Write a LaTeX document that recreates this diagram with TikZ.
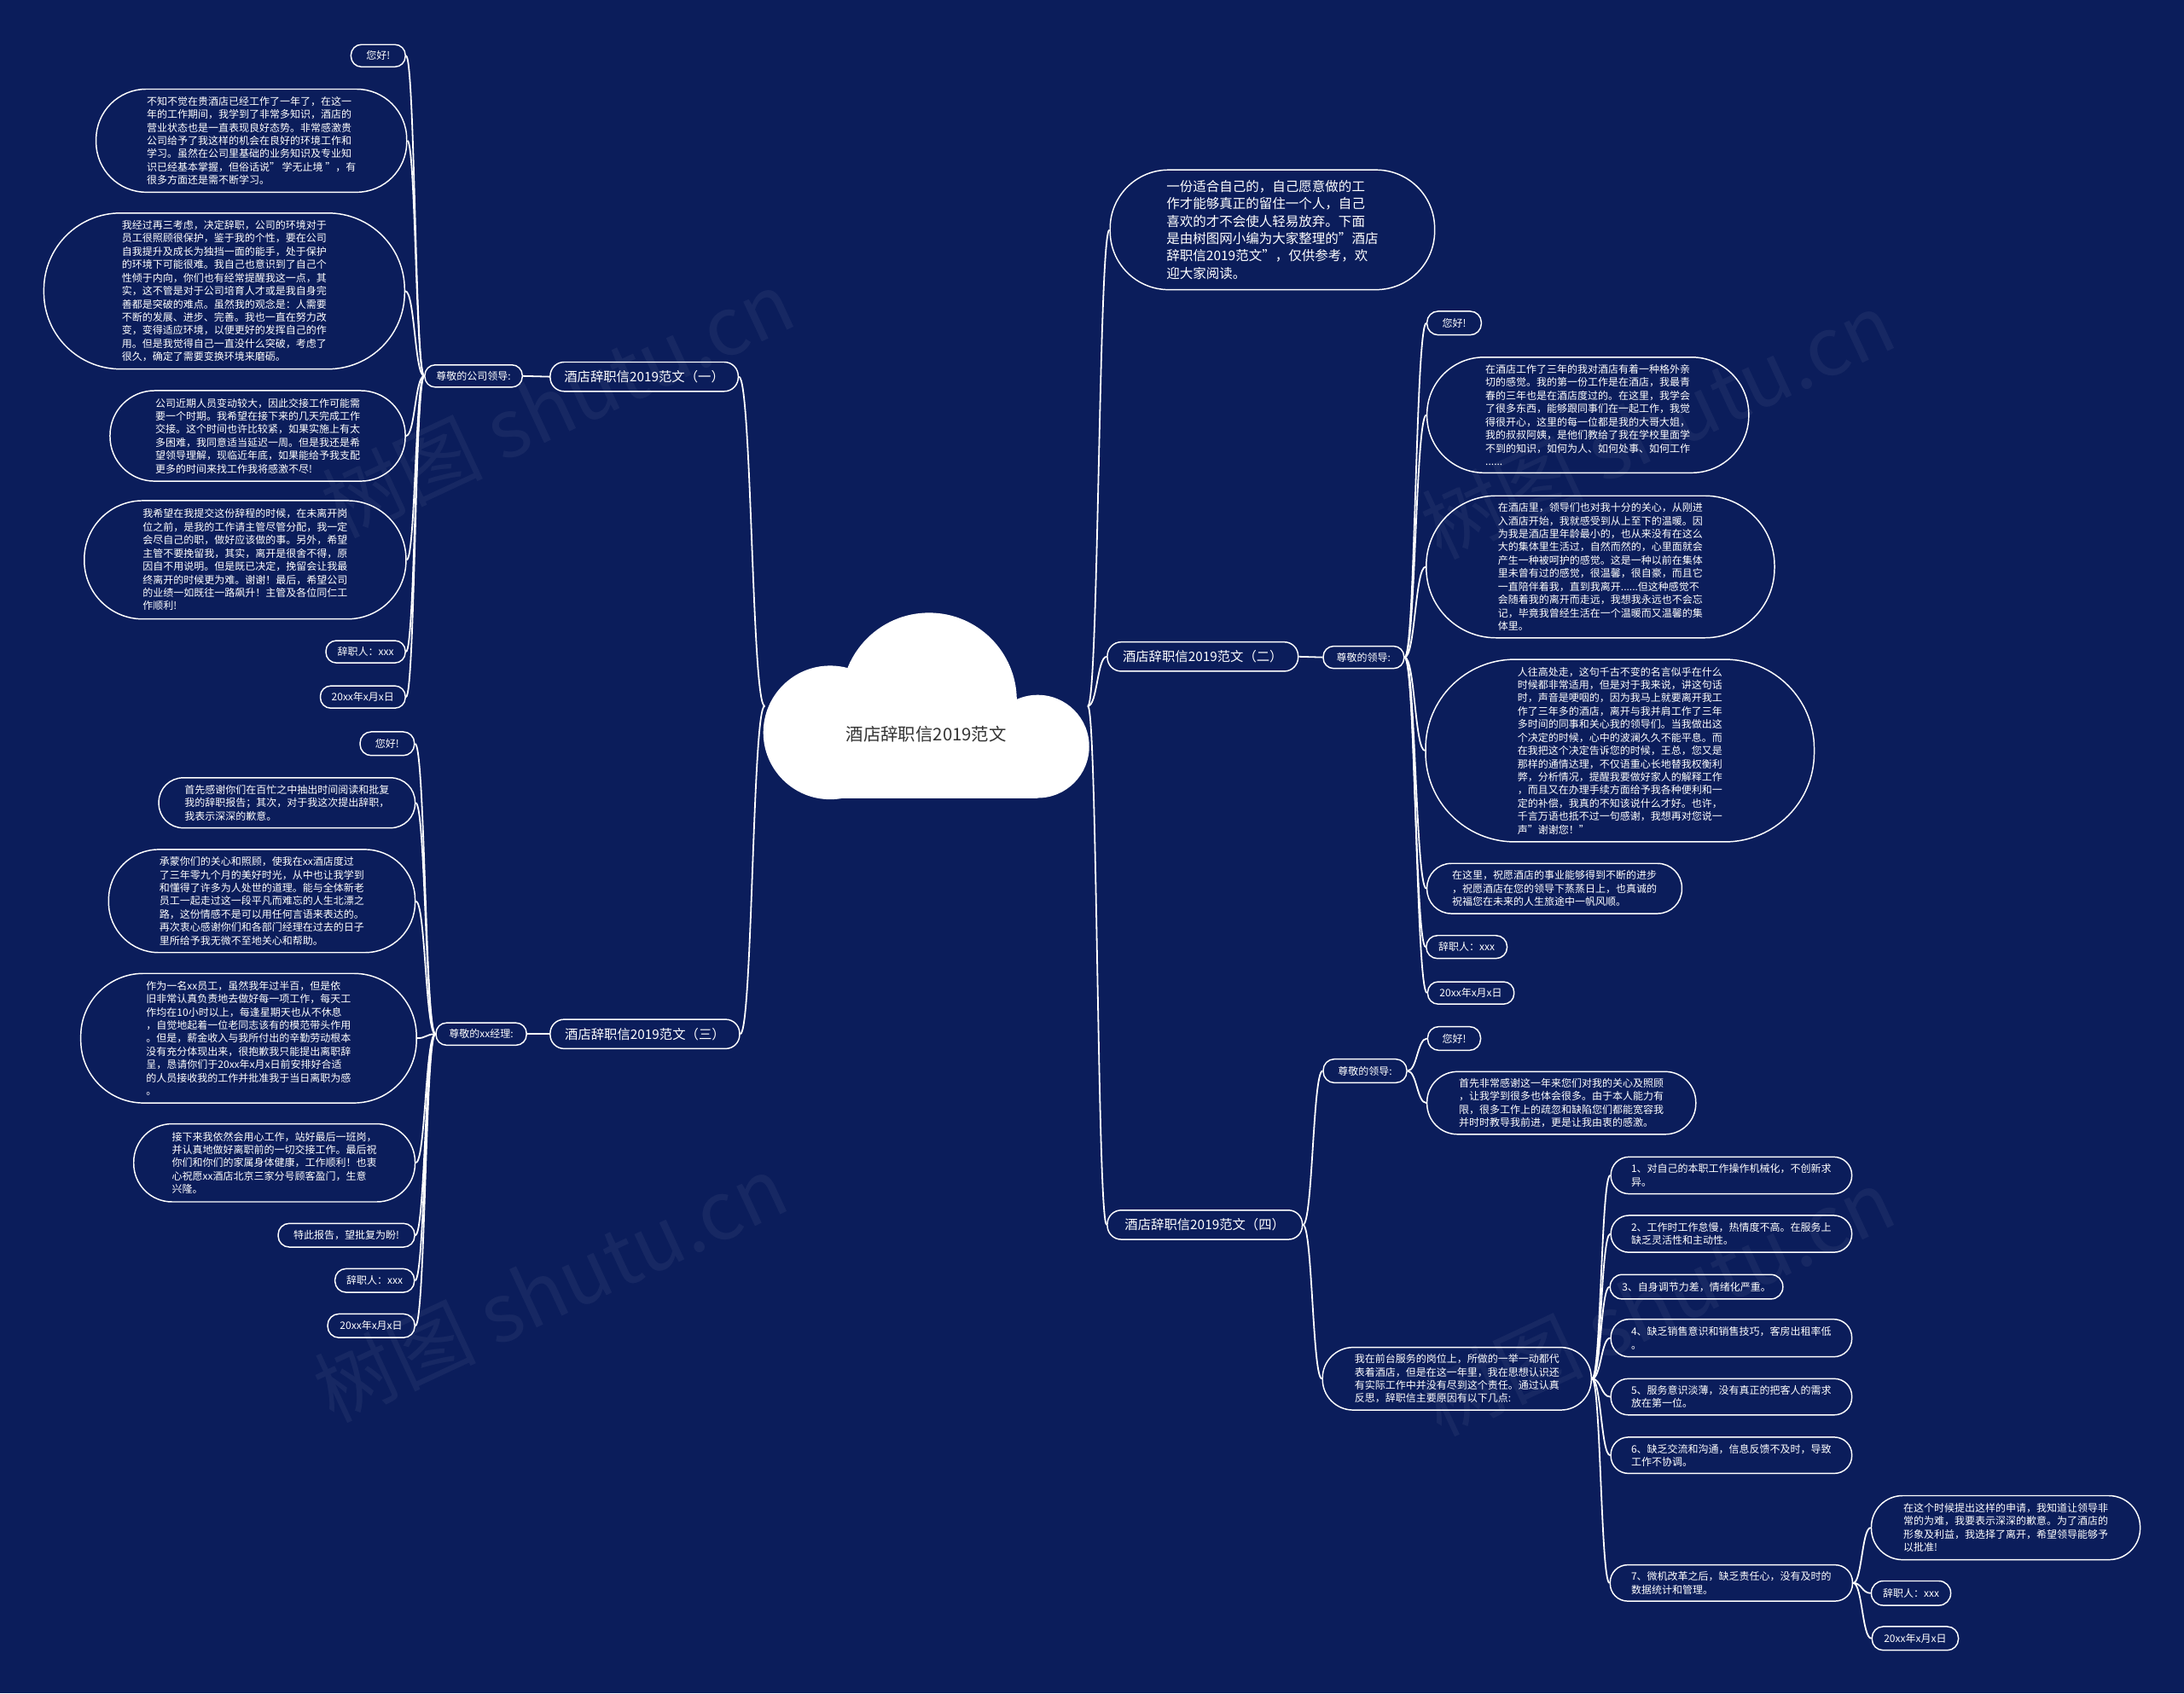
\documentclass[tikz,border=0pt]{standalone}
\usepackage{fontspec}
\setmainfont{Noto Sans CJK SC}
\usetikzlibrary{calc}
\definecolor{bg}{RGB}{11,29,91}
\tikzset{
 leafbox/.style={draw=white, line width=0.9pt, text=white, align=left, inner sep=0pt, font=\fontsize{7.35pt}{9.45pt}\selectfont},
 pill/.style n args={3}{leafbox, minimum width=#1pt, minimum height=#2pt, rounded corners=#3pt},
 bigtxt/.style={font=\fontsize{9.4pt}{11pt}\selectfont},
 introtxt/.style={font=\fontsize{9.5pt}{12.5pt}\selectfont},
 conn/.style={draw=white, line width=1.1pt},
 wmark/.style={rotate=25, text=white, opacity=0.05, font=\fontsize{58pt}{58pt}\selectfont},
}
\newcommand\conn[2]{\path (#1) -- coordinate[pos=0.5] (mm) (#2); \draw[conn] (#1) .. controls (mm |- #1) and (mm |- #2) .. (#2);}
\begin{document}
\begin{tikzpicture}[x=1pt,y=-1pt]
\fill[bg] (0,0) rectangle (1568,1216);
\useasboundingbox (0,0) rectangle (1568,1216);
% watermarks
\node[wmark] (w1) at (400,290) {树图 shutu.cn};
\node[wmark] (w2) at (1190,305) {树图 shutu.cn};
\node[wmark] (w3) at (395,925) {树图 shutu.cn};
\node[wmark] (w4) at (1190,935) {树图 shutu.cn};
% cloud
\fill[white] (596,526) circle (48);
\fill[white] (667,503) circle (63);
\fill[white] (745,536) circle (37);
\fill[white] (596,515) rectangle (745,573);
\node[font=\fontsize{12.5pt}{14pt}\selectfont, text=black!80] (c) at (665,527) {酒店辞职信2019范文};
\coordinate (cl) at (549,507);
\coordinate (cr) at (781,507);

% ---------- branch 1 ----------
\node[pill={135}{21}{10}, bigtxt] (b1) at (462.5,270.5) {酒店辞职信2019范文（一）};
\node[pill={70}{16}{7.5}] (s1) at (340,270) {尊敬的公司领导:};
\node[pill={39}{16}{7.5}] (l1a) at (271.5,40) {您好!};
\node[pill={223}{74}{36}] (l1b) at (180.5,101) {不知不觉在贵酒店已经工作了一年了，在这一\\年的工作期间，我学到了非常多知识，酒店的\\营业状态也是一直表现良好态势。非常感激贵\\公司给予了我这样的机会在良好的环境工作和\\学习。虽然在公司里基础的业务知识及专业知\\识已经基本掌握，但俗话说" 学无止境 "，有\\很多方面还是需不断学习。};
\node[pill={259}{112}{55}] (l1c) at (161,209) {我经过再三考虑，决定辞职，公司的环境对于\\员工很照顾很保护，鉴于我的个性，要在公司\\自我提升及成长为独挡一面的能手，处于保护\\的环境下可能很难。我自己也意识到了自己个\\性倾于内向，你们也有经常提醒我这一点，其\\实，这不管是对于公司培育人才或是我自身完\\善都是突破的难点。虽然我的观念是：人需要\\不断的发展、进步、完善。我也一直在努力改\\变，变得适应环境，以便更好的发挥自己的作\\用。但是我觉得自己一直没什么突破，考虑了\\很久，确定了需要变换环境来磨砺。};
\node[pill={212}{65}{32}] (l1d) at (185,313) {公司近期人员变动较大，因此交接工作可能需\\要一个时期。我希望在接下来的几天完成工作\\交接。这个时间也许比较紧，如果实施上有太\\多困难，我同意适当延迟一周。但是我还是希\\望领导理解，现临近年底，如果能给予我支配\\更多的时间来找工作我将感激不尽!};
\node[pill={231}{85}{42}] (l1e) at (176,402) {我希望在我提交这份辞程的时候，在未离开岗\\位之前，是我的工作请主管尽管分配，我一定\\会尽自己的职，做好应该做的事。另外，希望\\主管不要挽留我，其实，离开是很舍不得，原\\因自不用说明。但是既已决定，挽留会让我最\\终离开的时候更为难。谢谢！最后，希望公司\\的业绩一如既往一路飙升！主管及各位同仁工\\作顺利!};
\node[pill={57}{16}{7.5}] (l1f) at (262.5,468) {辞职人：xxx};
\node[pill={61}{16}{7.5}] (l1g) at (260.5,500.5) {20xx年x月x日};

% ---------- branch 3 ----------
\node[pill={136}{21}{10}, bigtxt] (b3) at (463,742.5) {酒店辞职信2019范文（三）};
\node[pill={65}{16}{7.5}] (s3) at (345.5,742.5) {尊敬的xx经理:};
\node[pill={39}{17}{8}] (l3a) at (278,534) {您好!};
\node[pill={184}{36}{17.5}] (l3b) at (206,576.5) {首先感谢你们在百忙之中抽出时间阅读和批复\\我的辞职报告；其次，对于我这次提出辞职，\\我表示深深的歉意。};
\node[pill={220}{74}{36}] (l3c) at (188,647) {承蒙你们的关心和照顾，使我在xx酒店度过\\了三年零九个月的美好时光，从中也让我学到\\和懂得了许多为人处世的道理。能与全体新老\\员工一起走过这一段平凡而难忘的人生北漂之\\路，这份情感不是可以用任何言语来表达的。\\再次衷心感谢你们和各部门经理在过去的日子\\里所给予我无微不至地关心和帮助。};
\node[pill={241}{93}{45}] (l3d) at (178.5,745.5) {作为一名xx员工，虽然我年过半百，但是依\\旧非常认真负责地去做好每一项工作，每天工\\作均在10小时以上，每逢星期天也从不休息\\，自觉地起着一位老同志该有的模范带头作用\\。但是，薪金收入与我所付出的辛勤劳动根本\\没有充分体现出来，很抱歉我只能提出离职辞\\呈，恳请你们于20xx年x月x日前安排好合适\\的人员接收我的工作并批准我于当日离职为感\\。};
\node[pill={202}{56}{27.5}] (l3e) at (197,835) {接下来我依然会用心工作，站好最后一班岗，\\并认真地做好离职前的一切交接工作。最后祝\\你们和你们的家属身体健康，工作顺利！也衷\\心祝愿xx酒店北京三家分号顾客盈门，生意\\兴隆。};
\node[pill={98}{17}{8}] (l3f) at (248.7,887) {特此报告，望批复为盼!};
\node[pill={57}{17}{8}] (l3g) at (269,919.5) {辞职人：xxx};
\node[pill={62.5}{17}{8}] (l3h) at (266.5,952) {20xx年x月x日};

% ---------- intro ----------
\node[pill={233}{86}{42}, introtxt] (intro) at (913.5,165) {一份适合自己的，自己愿意做的工\\作才能够真正的留住一个人，自己\\喜欢的才不会使人轻易放弃。下面\\是由树图网小编为大家整理的"酒店\\辞职信2019范文"，仅供参考，欢\\迎大家阅读。};

% ---------- branch 2 ----------
\node[pill={137}{21}{10}, bigtxt] (b2) at (863.5,471.5) {酒店辞职信2019范文（二）};
\node[pill={58}{16}{7.5}] (s2) at (979,472) {尊敬的领导:};
\node[pill={39}{17}{8}] (r2a) at (1044,232) {您好!};
\node[pill={231}{83}{41}] (r2b) at (1140,298) {在酒店工作了三年的我对酒店有着一种格外亲\\切的感觉。我的第一份工作是在酒店，我最青\\春的三年也是在酒店度过的。在这里，我学会\\了很多东西，能够跟同事们在一起工作，我觉\\得很开心，这里的每一位都是我的大哥大姐，\\我的叔叔阿姨，是他们教给了我在学校里面学\\不到的知识，如何为人、如何处事、如何工作\\......};
\node[pill={250}{102}{50}] (r2c) at (1149,407) {在酒店里，领导们也对我十分的关心，从刚进\\入酒店开始，我就感受到从上至下的温暖。因\\为我是酒店里年龄最小的，也从来没有在这么\\大的集体里生活过，自然而然的，心里面就会\\产生一种被呵护的感觉。这是一种以前在集体\\里未曾有过的感觉，很温馨，很自豪，而且它\\一直陪伴着我，直到我离开......但这种感觉不\\会随着我的离开而走远，我想我永远也不会忘\\记，毕竟我曾经生活在一个温暖而又温馨的集\\体里。};
\node[pill={279}{131}{64}] (r2d) at (1163,539) {人往高处走，这句千古不变的名言似乎在什么\\时候都非常适用，但是对于我来说，讲这句话\\时，声音是哽咽的，因为我马上就要离开我工\\作了三年多的酒店，离开与我并肩工作了三年\\多时间的同事和关心我的领导们。当我做出这\\个决定的时候，心中的波澜久久不能平息。而\\在我把这个决定告诉您的时候，王总，您又是\\那样的通情达理，不仅语重心长地替我权衡利\\弊，分析情况，提醒我要做好家人的解释工作\\，而且又在办理手续方面给予我各种便利和一\\定的补偿，我真的不知该说什么才好。也许，\\千言万语也抵不过一句感谢，我想再对您说一\\声"谢谢您！"};
\node[pill={183}{36}{17.5}] (r2e) at (1116,638) {在这里，祝愿酒店的事业能够得到不断的进步\\，祝愿酒店在您的领导下蒸蒸日上，也真诚的\\祝福您在未来的人生旅途中一帆风顺。};
\node[pill={58}{16.5}{8}] (r2f) at (1053,680) {辞职人：xxx};
\node[pill={62}{16}{7.5}] (r2g) at (1056,713) {20xx年x月x日};

% ---------- branch 4 ----------
\node[pill={140}{21}{10}, bigtxt] (b4) at (865,879.5) {酒店辞职信2019范文（四）};
\node[pill={60}{17}{8}] (s4) at (980,769) {尊敬的领导:};
\node[pill={38}{17}{8}] (r4a) at (1044,745.7) {您好!};
\node[pill={193}{45}{22}] (r4b) at (1121,792) {首先非常感谢这一年来您们对我的关心及照顾\\，让我学到很多也体会很多。由于本人能力有\\限，很多工作上的疏忽和缺陷您们都能宽容我\\并时时教导我前进，更是让我由衷的感激。};
\node[pill={193}{45}{22}] (s4b) at (1046,990) {我在前台服务的岗位上，所做的一举一动都代\\表着酒店，但是在这一年里，我在思想认识还\\有实际工作中并没有尽到这个责任。通过认真\\反思，辞职信主要原因有以下几点:};
\node[pill={173}{26.5}{13}] (i1) at (1243,844) {1、对自己的本职工作操作机械化，不创新求\\异。};
\node[pill={173}{26.5}{13}] (i2) at (1243,886) {2、工作时工作怠慢，热情度不高。在服务上\\缺乏灵活性和主动性。};
\node[pill={124}{17.5}{8.5}] (i3) at (1218,924) {3、自身调节力差，情绪化严重。};
\node[pill={173}{27}{13}] (i4) at (1243,960.8) {4、缺乏销售意识和销售技巧，客房出租率低\\。};
\node[pill={173}{26}{12.5}] (i5) at (1243,1003) {5、服务意识淡薄，没有真正的把客人的需求\\放在第一位。};
\node[pill={173}{26}{12.5}] (i6) at (1243,1045) {6、缺乏交流和沟通，信息反馈不及时，导致\\工作不协调。};
\node[pill={174}{26}{12.5}] (i7) at (1243,1136.7) {7、微机改革之后，缺乏责任心，没有及时的\\数据统计和管理。};
\node[pill={193}{46}{22.5}] (i7a) at (1440,1097) {在这个时候提出这样的申请，我知道让领导非\\常的为难，我要表示深深的歉意。为了酒店的\\形象及利益，我选择了离开，希望领导能够予\\以批准!};
\node[pill={57}{17.5}{8.5}] (i7b) at (1372,1144) {辞职人：xxx};
\node[pill={62}{17}{8}] (i7c) at (1375,1176.5) {20xx年x月x日};

% ---------- connectors ----------
\conn{cl}{b1.east}
\conn{cl}{b3.east}
\conn{b1.west}{s1.east}
\foreach \n in {l1a,l1b,l1c,l1d,l1e,l1f,l1g} {\conn{s1.west}{\n.east}}
\conn{b3.west}{s3.east}
\foreach \n in {l3a,l3b,l3c,l3d,l3e,l3f,l3g,l3h} {\conn{s3.west}{\n.east}}
\conn{cr}{intro.west}
\conn{cr}{b2.west}
\conn{cr}{b4.west}
\conn{b2.east}{s2.west}
\foreach \n in {r2a,r2b,r2c,r2d,r2e,r2f,r2g} {\conn{s2.east}{\n.west}}
\conn{b4.east}{s4.west}
\conn{b4.east}{s4b.west}
\conn{s4.east}{r4a.west}
\conn{s4.east}{r4b.west}
\foreach \n in {i1,i2,i3,i4,i5,i6,i7} {\conn{s4b.east}{\n.west}}
\foreach \n in {i7a,i7b,i7c} {\conn{i7.east}{\n.west}}
\end{tikzpicture}
\end{document}
